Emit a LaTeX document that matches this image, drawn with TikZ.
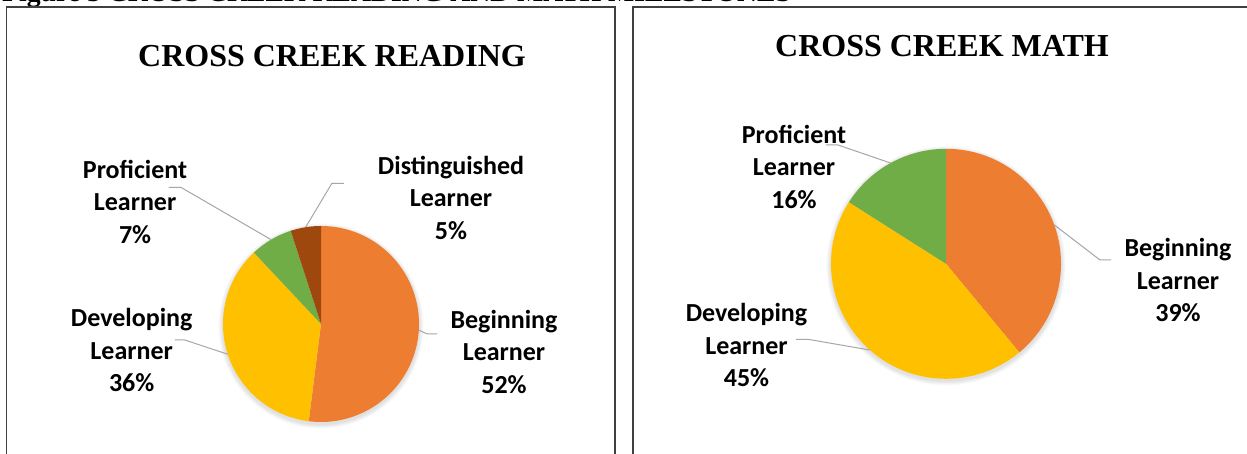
\documentclass[tikz,border=0pt]{standalone}
\usepackage{fontspec}
\setmainfont{Liberation Serif}
\newfontfamily\carlito{Carlito}
\definecolor{begC}{HTML}{ED7D31}
\definecolor{devC}{HTML}{FFC000}
\definecolor{profC}{HTML}{70AD47}
\definecolor{distC}{HTML}{9E480E}
\definecolor{leadC}{HTML}{A6A6A6}
\definecolor{boxC}{HTML}{404040}
\tikzset{
  lbl/.style={font=\fontsize{26}{32.5}\selectfont\carlito\bfseries, align=center, anchor=base, inner sep=0pt},
  ttl/.style={font=\fontsize{32}{38}\selectfont\bfseries, anchor=base, inner sep=0pt},
  leader/.style={draw=leadC, line width=1pt},
  frame/.style={draw=boxC, line width=1.3pt},
}
\begin{document}
\begin{tikzpicture}[x=1pt,y=1pt]
\useasboundingbox (0,0) rectangle (1247,454);
\clip (0,0) rectangle (1247,454);
\fill[white] (0,0) rectangle (1247,454);
% caption (clipped at top)
\node[font=\fontsize{27.7}{32}\selectfont\bfseries, anchor=base west, inner sep=0pt] (cap) at (2,452) {Figure 5 CROSS CREEK READING AND MATH MILESTONES};
% frames
\draw[frame] (6.7,-10) -- (6.7,447) -- (615,447) -- (615,-10);
\draw[frame] (633,-10) -- (633,447) -- (1260,447);
% titles
\node[ttl] (t1) at (332,387.3) {CROSS CREEK READING};
\node[ttl] (t2) at (942,397.3) {CROSS CREEK MATH};
% ---------- left pie ----------
\coordinate (cL) at (321,130);
\foreach \i in {1,...,5} {\fill[black, opacity=0.025] ([yshift=-2]cL) circle[radius=98+\i*0.9];}
\fill[begC] (cL) -- ([shift={(90:98)}]cL) arc[start angle=90, end angle=-97.2, radius=98] -- cycle;
\fill[devC] (cL) -- ([shift={(-97.2:98)}]cL) arc[start angle=-97.2, end angle=-226.8, radius=98] -- cycle;
\fill[profC] (cL) -- ([shift={(-226.8:98)}]cL) arc[start angle=-226.8, end angle=-252, radius=98] -- cycle;
\fill[distC] (cL) -- ([shift={(-252:98)}]cL) arc[start angle=-252, end angle=-270, radius=98] -- cycle;
% left labels (anchor = baseline of last line)
\node[lbl] (lProf) at (135.1,210.5) {Proficient\\Learner\\7\%};
\node[lbl] (lDist) at (451,214.5) {Distinguished\\Learner\\5\%};
\node[lbl] (lDev) at (131.7,62.2) {Developing\\Learner\\36\%};
\node[lbl] (lBeg) at (504,60.5) {Beginning\\Learner\\52\%};
% left leaders
\coordinate (lProfA) at (168.9,266.7);
\coordinate (lProfB) at (180.8,266.7);
\draw[leader] (lProfA) -- (lProfB) -- ([shift={(120.6:98)}]cL);
\coordinate (lDistA) at (343.8,270.7);
\coordinate (lDistB) at (331.9,270.7);
\draw[leader] (lDistA) -- (lDistB) -- ([shift={(99:98)}]cL);
\coordinate (lDevA) at (174.9,114);
\coordinate (lDevB) at (184.8,114);
\draw[leader] (lDevA) -- (lDevB) -- ([shift={(-162:98)}]cL);
\coordinate (lBegA) at (437.2,120);
\coordinate (lBegB) at (427.3,120);
\draw[leader] (lBegA) -- (lBegB) -- ([shift={(-3.6:98)}]cL);
% ---------- right pie ----------
\coordinate (cR) at (946,190.2);
\foreach \i in {1,...,5} {\fill[black, opacity=0.025] ([yshift=-2]cR) circle[radius=115+\i*0.9];}
\fill[begC] (cR) -- ([shift={(90:115)}]cR) arc[start angle=90, end angle=-50.4, radius=115] -- cycle;
\fill[devC] (cR) -- ([shift={(-50.4:115)}]cR) arc[start angle=-50.4, end angle=-212.4, radius=115] -- cycle;
\fill[profC] (cR) -- ([shift={(-212.4:115)}]cR) arc[start angle=-212.4, end angle=-270, radius=115] -- cycle;
% right labels
\node[lbl] (rProf) at (794,245.5) {Proficient\\Learner\\16\%};
\node[lbl] (rBeg) at (1178,132.2) {Beginning\\Learner\\39\%};
\node[lbl] (rDev) at (746.5,67.2) {Developing\\Learner\\45\%};
% right leaders
\coordinate (rProfA) at (826,309);
\coordinate (rProfB) at (838,309);
\draw[leader] (rProfA) -- (rProfB) -- ([shift={(118.8:115)}]cR);
\coordinate (rBegA) at (1111.2,194);
\coordinate (rBegB) at (1100,194);
\draw[leader] (rBegA) -- (rBegB) -- ([shift={(19.8:115)}]cR);
\coordinate (rDevA) at (796,114.7);
\coordinate (rDevB) at (808,114.7);
\draw[leader] (rDevA) -- (rDevB) -- ([shift={(-131.4:115)}]cR);
\end{tikzpicture}
\end{document}
